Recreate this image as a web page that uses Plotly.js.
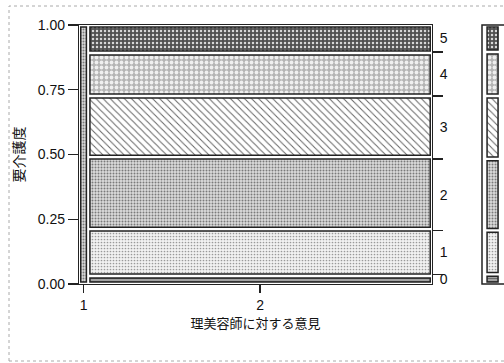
<!DOCTYPE html>
<html>
<head>
<meta charset="utf-8">
<script src="https://cdn.plot.ly/plotly-3.0.1.min.js"></script>
<style>
  html, body { margin: 0; padding: 0; background: #fff; }
  #chart { width: 504px; height: 363px; }
</style>
</head>
<body>
<div id="chart"></div>
<script>
// mosaic data: column widths and level shares per column
const categories = ["1", "2"];
const catShare = [0.026, 0.974];
const levels = ["0", "1", "2", "3", "4", "5"];
const col1 = [0, 0, 1, 0, 0, 0];
const col2 = [0.031, 0.181, 0.278, 0.236, 0.166, 0.108];
const marginal = [0.037, 0.170, 0.276, 0.243, 0.170, 0.104];
const yTicks = [0, 0.25, 0.5, 0.75, 1];

const columns = [col1, col2];

// fill patterns per level (grayscale scan look)
const patterns = [
    { shape: "-", bgcolor: "#a8a8a8", fgcolor: "#6a6a6a", size: 3, solidity: 0.4 },
    { shape: ".", bgcolor: "#f2f2f2", fgcolor: "#9a9a9a", size: 3, solidity: 0.25 },
    { shape: ".", bgcolor: "#dcdcdc", fgcolor: "#7a7a7a", size: 3, solidity: 0.35 },
    { shape: "\\", bgcolor: "#ffffff", fgcolor: "#666666", size: 5, solidity: 0.2 },
    { shape: ".", bgcolor: "#b4b4b4", fgcolor: "#efefef", size: 5, solidity: 0.45 },
    { shape: ".", bgcolor: "#505050", fgcolor: "#d8d8d8", size: 4, solidity: 0.3 }
];

const gapX = 0.01;
const gapY = 0.015;
const numFont = { family: "Liberation Sans, Arial, sans-serif", size: 14, color: "#111" };
const jpFont = { family: "Noto Sans CJK JP, sans-serif", size: 13, color: "#111" };
const edge = { color: "#222", width: 1.5 };

// column centres from cumulative widths
const centers = [];
let acc = 0;
catShare.forEach(w => { centers.push(acc + w / 2); acc += w; });

const traces = [];
levels.forEach((lv, li) => {
    const xs = [], ys = [], bases = [], widths = [];
    columns.forEach((col, ci) => {
        const share = col[li];
        if (!share) return;
        let cum = 0;
        for (let k = 0; k < li; k++) cum += col[k];
        xs.push(centers[ci]);
        bases.push(cum + gapY / 2);
        ys.push(share - gapY);
        widths.push(catShare[ci] - gapX);
    });
    traces.push({
        type: "bar", x: xs, y: ys, base: bases, width: widths,
        marker: { color: patterns[li].bgcolor, pattern: patterns[li], line: edge },
        xaxis: "x", yaxis: "y", hoverinfo: "skip", showlegend: false
    });
});

// marginal strip at the right edge
const margMid = [], margBound = [];
let mc = 0;
marginal.forEach((m, li) => {
    margMid.push(mc + m / 2);
    mc += m;
    if (li < marginal.length - 1) margBound.push(mc);
    traces.push({
        type: "bar", x: [0.48], y: [m - gapY], base: [mc - m + gapY / 2], width: [0.5],
        marker: { color: patterns[li].bgcolor, pattern: patterns[li], line: edge },
        xaxis: "x2", yaxis: "y", hoverinfo: "skip", showlegend: false
    });
});

// empty traces so the right-hand axes get drawn
traces.push({ type: "scatter", mode: "markers", x: [null], y: [null], xaxis: "x", yaxis: "y2", showlegend: false });
traces.push({ type: "scatter", mode: "markers", x: [null], y: [null], xaxis: "x", yaxis: "y3", showlegend: false });

const mainEnd = 353 / 425;

const layout = {
    width: 504,
    height: 363,
    margin: { l: 79, r: 0, t: 25, b: 79 },
    paper_bgcolor: "#fff",
    plot_bgcolor: "rgba(0,0,0,0)",
    barmode: "overlay",
    showlegend: false,
    xaxis: {
        domain: [0, mainEnd], range: [0, 1], anchor: "y",
        tickvals: centers, ticktext: categories,
        ticks: "outside", ticklen: 8, tickwidth: 1.2, tickcolor: "#222",
        showline: true, mirror: true, linecolor: "#222", linewidth: 1.2,
        showgrid: false, zeroline: false, tickfont: numFont,
        title: { text: "理美容師に対する意見", font: jpFont, standoff: 3 }
    },
    yaxis: {
        domain: [0, 1], range: [0, 1], anchor: "x",
        tickvals: yTicks, tickformat: ".2f",
        ticks: "outside", ticklen: 10, tickwidth: 1.2, tickcolor: "#222",
        showline: true, mirror: true, linecolor: "#222", linewidth: 1.2,
        showgrid: false, zeroline: false, tickfont: numFont,
        title: { text: "要介護度", font: { family: jpFont.family, size: 14, color: "#111" }, standoff: 9 }
    },
    yaxis2: {
        overlaying: "y", side: "right", anchor: "x",
        range: [0, 1], tickvals: margBound, showticklabels: false,
        ticks: "outside", ticklen: 10, tickwidth: 1.2, tickcolor: "#222",
        showline: false, showgrid: false, zeroline: false
    },
    yaxis3: {
        overlaying: "y", side: "right", anchor: "x",
        range: [0, 1], tickvals: margMid, ticktext: levels,
        ticks: "outside", ticklen: 4, tickcolor: "rgba(0,0,0,0)",
        showline: false, showgrid: false, zeroline: false, tickfont: numFont
    },
    xaxis2: {
        domain: [(482 - 79) / 425, 1], range: [0, 1], anchor: "y",
        showticklabels: false, ticks: "", showline: false,
        showgrid: false, zeroline: false
    },
    shapes: [
        {
            type: "rect", xref: "x2 domain", yref: "y domain",
            x0: 0, x1: 1.2, y0: 0, y1: 1,
            line: { color: "#222", width: 1.5 }
        },
        {
            type: "rect", xref: "paper", yref: "paper",
            x0: -70 / 425, x1: 1.1, y0: -77 / 259, y1: 278 / 259,
            line: { color: "#aaa", width: 1, dash: "dot" }
        }
    ]
};

Plotly.newPlot("chart", traces, layout, { displayModeBar: false, staticPlot: true });
</script>
</body>
</html>
